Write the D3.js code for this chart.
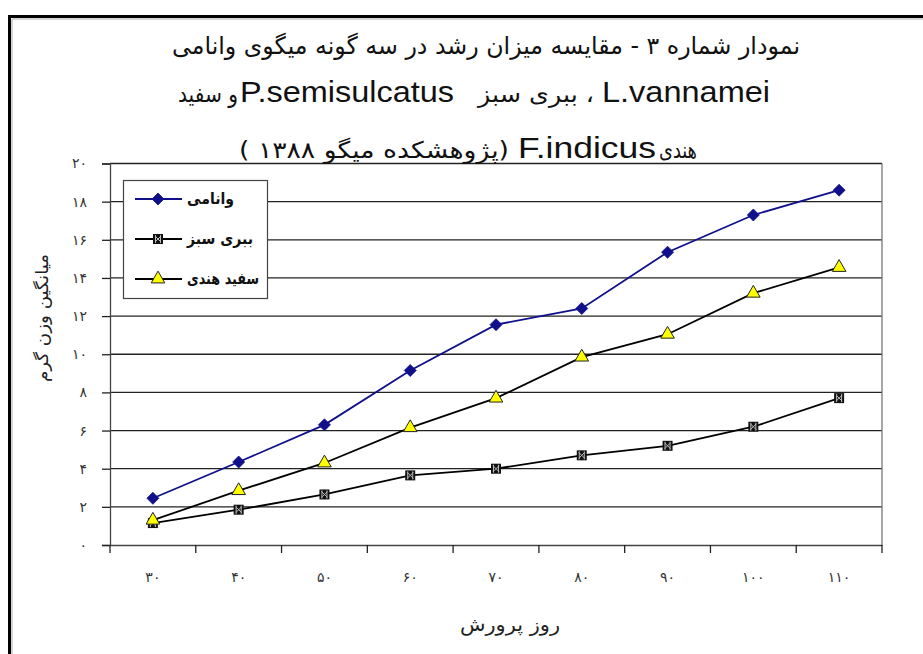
<!DOCTYPE html>
<html><head><meta charset="utf-8">
<script src="https://cdn.jsdelivr.net/npm/d3@7"></script>
<style>body{margin:0;background:#fff}svg{display:block}</style>
</head><body>
<svg id="c" width="923" height="654"></svg>
<script>
const days = [30, 40, 50, 60, 70, 80, 90, 100, 110];
const dayLabels = ["۳۰","۴۰","۵۰","۶۰","۷۰","۸۰","۹۰","۱۰۰","۱۱۰"];
const vannamei = [2.45, 4.35, 6.3, 9.15, 11.55, 12.4, 15.35, 17.3, 18.6];
const semisulcatus = [1.15, 1.85, 2.65, 3.65, 4.0, 4.7, 5.2, 6.2, 7.7];
const indicus = [1.3, 2.85, 4.3, 6.15, 7.7, 9.85, 11.05, 13.2, 14.55];
const yTicks = [0, 2, 4, 6, 8, 10, 12, 14, 16, 18, 20];
const yTickLabels = ["۰","۲","۴","۶","۸","۱۰","۱۲","۱۴","۱۶","۱۸","۲۰"];
const seriesNames = ["وانامی", "ببری سبز", "سفید هندی"];
const yTitle = "میانگین وزن گرم";
const xTitle = "روز پرورش";

const svg = d3.select("#c");
const FA = "'DejaVu Sans', sans-serif";
const LAT = "'Liberation Sans', Arial, sans-serif";

// page border
svg.append("line").attr("x1",10).attr("y1",16.5).attr("x2",923).attr("y2",16.5).attr("stroke","#000").attr("stroke-width",3);
svg.append("line").attr("x1",9.5).attr("y1",15).attr("x2",9.5).attr("y2",654).attr("stroke","#000").attr("stroke-width",3);
svg.append("line").attr("x1",12).attr("y1",19).attr("x2",923).attr("y2",19).attr("stroke","#aaa").attr("stroke-width",1);
svg.append("line").attr("x1",12).attr("y1",19).attr("x2",12).attr("y2",654).attr("stroke","#aaa").attr("stroke-width",1);

const x = d3.scaleBand().domain(days).range([110, 882]);
const y = d3.scaleLinear().domain([0, 20]).range([545, 163.5]);

// gridlines
svg.append("g").selectAll("line").data(yTicks.filter(d => d > 0)).join("line")
  .attr("x1", 110).attr("x2", 882).attr("y1", d => y(d)).attr("y2", d => y(d))
  .attr("stroke", "#222").attr("stroke-width", 1.3);
svg.append("line").attr("x1",882).attr("x2",882).attr("y1",y(20)).attr("y2",y(0)).attr("stroke","#777").attr("stroke-width",1.3);

// y axis
const yAxis = svg.append("g").attr("transform","translate(110,0)")
  .call(d3.axisLeft(y).tickValues(yTicks).tickFormat((d,i) => yTickLabels[i]).tickSize(8).tickPadding(15));
yAxis.select(".domain").attr("stroke","#444").attr("stroke-width",1.3);
yAxis.selectAll(".tick line").attr("stroke","#222").attr("stroke-width",1.3);
yAxis.selectAll("text").attr("font-family",FA).attr("font-size",14).attr("fill","#333");

// x axis
const xAxis = svg.append("g").attr("transform","translate(0,545)")
  .call(d3.axisBottom(x).tickFormat((d,i) => dayLabels[i]).tickSize(0).tickPadding(27));
xAxis.select(".domain").attr("stroke","#444").attr("stroke-width",1.3);
xAxis.selectAll("text").attr("font-family",FA).attr("font-size",14).attr("fill","#333");
const bounds = days.map(d => x(d)).concat([x.range()[1]]);
svg.append("g").selectAll("line").data(bounds).join("line")
  .attr("x1", d => d).attr("x2", d => d).attr("y1", 545).attr("y2", 553)
  .attr("stroke","#222").attr("stroke-width",1.3);

// axis titles
svg.append("text").attr("transform","translate(48,318) rotate(-90)").attr("text-anchor","middle")
  .attr("font-family",FA).attr("font-size",17).attr("fill","#222").attr("direction","rtl")
  .attr("textLength",128).attr("lengthAdjust","spacingAndGlyphs").text(yTitle);
svg.append("text").attr("x",510).attr("y",631).attr("text-anchor","middle")
  .attr("font-family",FA).attr("font-size",19).attr("fill","#222").attr("direction","rtl")
  .attr("textLength",100).attr("lengthAdjust","spacingAndGlyphs").text(xTitle);

// title
function tt(txt, cx, by, font, size, len, dir) {
  svg.append("text").attr("x",cx).attr("y",by).attr("text-anchor","middle")
    .attr("font-family",font).attr("font-size",size).attr("fill","#111")
    .attr("direction",dir||"ltr")
    .attr("textLength",len).attr("lengthAdjust","spacingAndGlyphs").text(txt);
}
tt("نمودار شماره ۳ - مقایسه میزان رشد در سه گونه میگوی  وانامی", 486, 54, FA, 24, 628, "rtl");
tt("L.vannamei", 686, 102, LAT, 29, 168);
tt("، ببری سبز", 536, 102, FA, 23, 116, "rtl");
tt("P.semisulcatus", 347, 102, LAT, 29, 214);
tt("و سفید", 208, 102, FA, 23, 60, "rtl");
tt("هندی", 678, 158, FA, 23, 38, "rtl");
tt("F.indicus", 587, 158, LAT, 29, 138);
tt("(پژوهشکده میگو ۱۳۸۸ )", 374, 158, FA, 23, 270, "rtl");

// series
const line = d3.line().x((d,i) => x(days[i]) + x.bandwidth()/2).y(d => y(d));
const colBlue = "#10108a";
function drawSeries(vals, color) {
  svg.append("path").datum(vals).attr("d", line).attr("fill","none").attr("stroke",color).attr("stroke-width",1.8);
}
drawSeries(vannamei, colBlue);
drawSeries(indicus, "#000");
drawSeries(semisulcatus, "#000");

function diamond(g, cx, cy) {
  const r = 6;
  g.append("path").attr("d", `M${cx},${cy-r}L${cx+r},${cy}L${cx},${cy+r}L${cx-r},${cy}Z`).attr("fill",colBlue).attr("stroke",colBlue).attr("stroke-width",0.8);
}
function sq(g, cx, cy) {
  g.append("rect").attr("x",cx-5).attr("y",cy-5).attr("width",10).attr("height",10).attr("fill","#111");
  g.append("path").attr("d",`M${cx-3},${cy-3}L${cx+3},${cy+3}M${cx+3},${cy-3}L${cx-3},${cy+3}M${cx-2.5},${cy-4}V${cy+4}M${cx+2.5},${cy-4}V${cy+4}`).attr("stroke","#bbb").attr("stroke-width",1);
}
function tri(g, cx, cy) {
  g.append("path").attr("d", d3.symbol(d3.symbolTriangle, 80)()).attr("transform",`translate(${cx},${cy})`).attr("fill","#ffff00").attr("stroke","#222").attr("stroke-width",1);
}
const mk = svg.append("g");
vannamei.forEach((v,i) => diamond(mk, x(days[i]) + x.bandwidth()/2, y(v)));
semisulcatus.forEach((v,i) => sq(mk, x(days[i]) + x.bandwidth()/2, y(v)));
indicus.forEach((v,i) => tri(mk, x(days[i]) + x.bandwidth()/2, y(v)));

// legend
const lg = svg.append("g");
lg.append("rect").attr("x",123.5).attr("y",180.5).attr("width",144).attr("height",118).attr("fill","#fff").attr("stroke","#444").attr("stroke-width",1.2);
const ly = [199, 239, 279];
const lcol = [colBlue, "#000", "#000"];
const lmark = [diamond, sq, tri];
const lw = [47, 66, 72];
seriesNames.forEach((n,i) => {
  lg.append("line").attr("x1",135).attr("x2",182).attr("y1",ly[i]).attr("y2",ly[i]).attr("stroke",lcol[i]).attr("stroke-width",1.8);
  lmark[i](lg, 158, ly[i]);
  lg.append("text").attr("x",187).attr("y",ly[i]+5).attr("font-family",FA).attr("font-weight","bold")
    .attr("font-size",16).attr("fill","#111")
    .attr("textLength",lw[i]).attr("lengthAdjust","spacingAndGlyphs").text(n);
});
</script>
</body></html>
